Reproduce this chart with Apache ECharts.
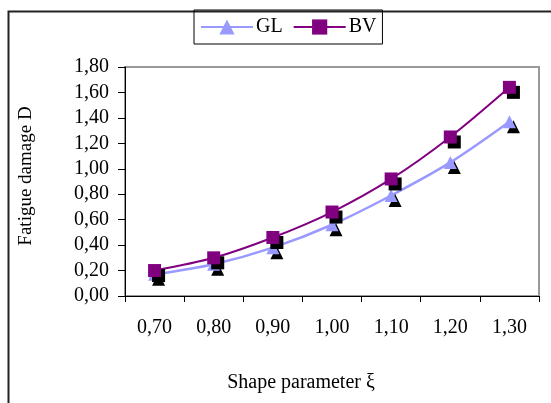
<!DOCTYPE html>
<html><head><meta charset="utf-8">
<script src="https://cdn.jsdelivr.net/npm/echarts@6/dist/echarts.min.js"></script>
<style>html,body{margin:0;padding:0;background:#fff}#c{width:551px;height:403px}</style>
</head><body><div id="c"></div>
<script>
var categories = ['0,70','0,80','0,90','1,00','1,10','1,20','1,30'];
var glValues = [0.17, 0.25, 0.38, 0.56, 0.79, 1.05, 1.37];
var bvValues = [0.20, 0.30, 0.46, 0.66, 0.92, 1.25, 1.64];
var seriesNames = ['GL', 'BV'];
var xTitle = 'Shape parameter ξ';
var yTitle = 'Fatigue damage D';

var FONT = 'Liberation Serif, Times New Roman, serif';
var chart = echarts.init(document.getElementById('c'));
var shadow = {shadowColor:'#000', shadowBlur:0, shadowOffsetX:4, shadowOffsetY:5};
chart.setOption({
  animation:false,
  backgroundColor:'#fff',
  grid:{left:125, top:67, right:12, bottom:107, show:true, borderColor:'#999', borderWidth:2, containLabel:false},
  legend:{
    left:194, top:10, data:seriesNames,
    borderColor:'#000', borderWidth:1, padding:[7,6,7,6],
    itemWidth:52, itemHeight:19, itemGap:10,
    textStyle:{fontFamily:FONT, fontSize:20, color:'#000', padding:[0,0,0,-2]},
    itemStyle:{shadowColor:'rgba(0,0,0,0)', shadowOffsetX:0, shadowOffsetY:0}
  },
  xAxis:{
    type:'category', data:categories, boundaryGap:true,
    axisLine:{lineStyle:{color:'#000', width:1}},
    axisTick:{show:true, length:6, inside:false, alignWithLabel:false, lineStyle:{color:'#000'}},
    axisLabel:{fontFamily:FONT, fontSize:20, color:'#000', margin:22},
    splitLine:{show:false}
  },
  yAxis:{
    type:'value', min:0, max:1.8, interval:0.2,
    axisLine:{show:true, lineStyle:{color:'#000', width:1}},
    axisTick:{show:true, length:7, lineStyle:{color:'#000'}},
    axisLabel:{fontFamily:FONT, fontSize:20, color:'#000', margin:16,
      formatter:function(v){return v.toFixed(2).replace('.',',');}},
    splitLine:{show:false}
  },
  graphic:[
    {type:'rect', left:6, top:9, shape:{width:560, height:420}, style:{fill:'none', stroke:'#222', lineWidth:2}, silent:true, z:-1},
    {type:'text', x:301, y:383, style:{text:xTitle, fontFamily:FONT, fontSize:20, fill:'#000', align:'center', verticalAlign:'middle'}},
    {type:'text', x:26, y:176, rotation:Math.PI/2, style:{text:yTitle, fontFamily:FONT, fontSize:19, fill:'#000', align:'center', verticalAlign:'middle'}}
  ],
  series:[
    {name:seriesNames[0], type:'line', data:glValues, smooth:0.3,
     symbol:'triangle', symbolSize:[13,13],
     lineStyle:{color:'#9999FF', width:2.5},
     itemStyle:Object.assign({color:'#9999FF'}, shadow), z:2},
    {name:seriesNames[1], type:'line', data:bvValues, smooth:0.3,
     symbol:'rect', symbolSize:13,
     lineStyle:{color:'#800080', width:2},
     itemStyle:Object.assign({color:'#800080'}, shadow), z:3}
  ]
});
</script></body></html>
